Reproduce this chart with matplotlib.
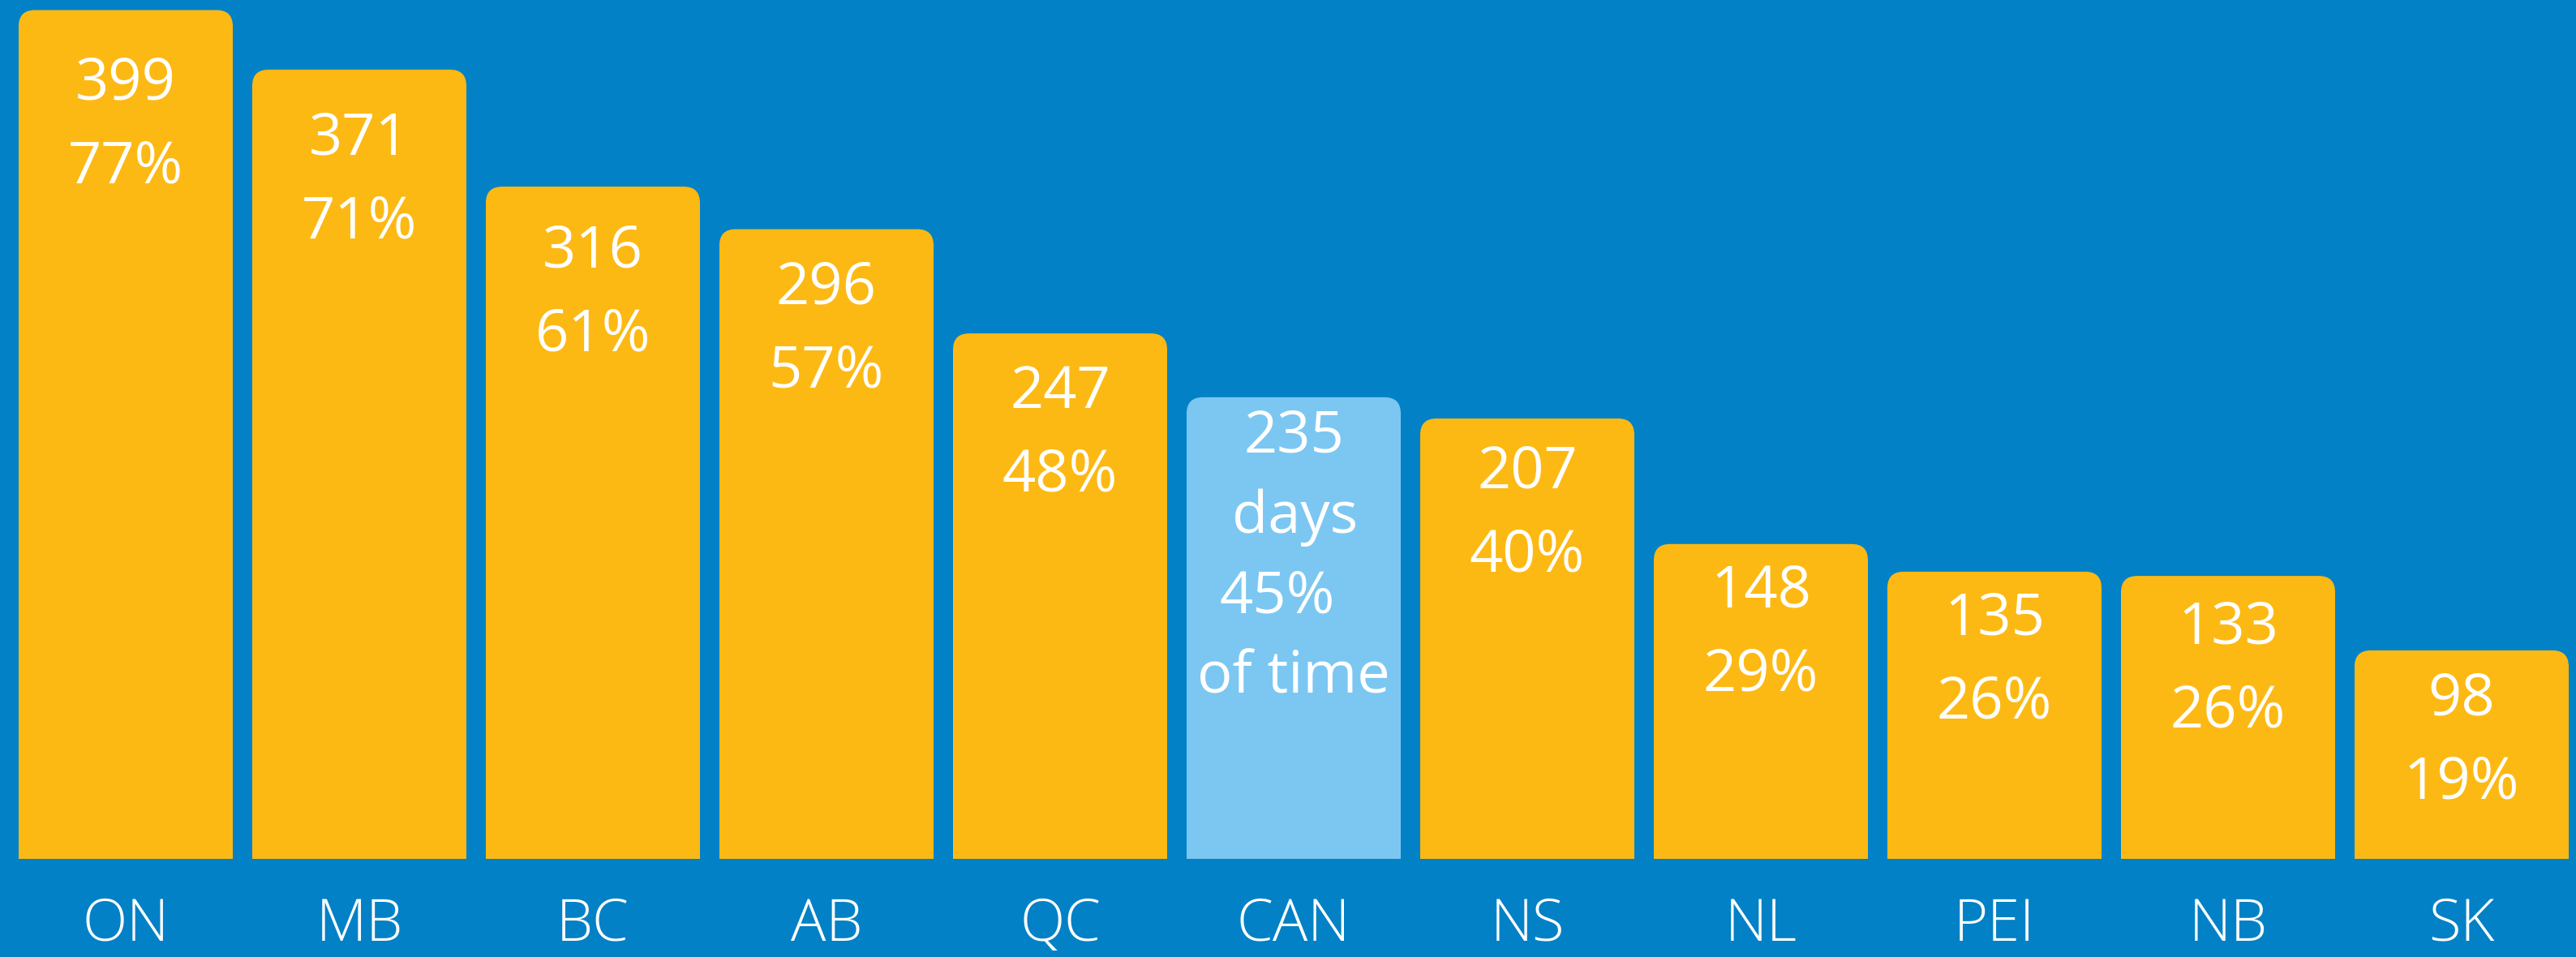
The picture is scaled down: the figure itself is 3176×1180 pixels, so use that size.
import matplotlib.pyplot as plt
from matplotlib.patches import FancyBboxPatch, Rectangle

# Data
provinces = ['ON', 'MB', 'BC', 'AB', 'QC', 'CAN', 'NS', 'NL', 'PEI', 'NB', 'SK']
days = [399, 371, 316, 296, 247, 235, 207, 148, 135, 133, 98]
pct = [77, 71, 61, 57, 48, 45, 40, 29, 26, 26, 19]
# the CAN bar is drawn shorter than its label in the original
bar_heights = [399, 371, 316, 296, 247, 217, 207, 148, 135, 133, 98]

# how far (px) the first label line sits below each bar top
label_drop = [91, 86, 81, 73, 73, 49, 67, 59, 59, 65, 61]

BG = '#0281C6'
YELLOW = '#FDB913'
LIGHT = '#7BC7F2'
colors = [LIGHT if p == 'CAN' else YELLOW for p in provinces]

fig = plt.figure(figsize=(31.76, 11.8), dpi=100)
fig.patch.set_facecolor(BG)
ax = fig.add_axes([0, 0, 1, 1])
ax.set_facecolor(BG)
ax.axis('off')

# pixel geometry: bar pitch 288 px, baseline 121 px above bottom, 2.623 px per day
ax.set_xlim(-155 / 288, (3176 - 155) / 288)
ax.set_ylim(-121 / 2.623, (1180 - 121) / 2.623)

x = list(range(len(provinces)))
bars = ax.bar(x, bar_heights, width=264 / 288, color=colors)

# swap plain bars for ones with rounded top corners
r = 20 / 288
asp = (20 / 2.623) / r
for b in bars:
    x0, w, h = b.get_x(), b.get_width(), b.get_height()
    fc = b.get_facecolor()
    b.remove()
    ax.add_patch(FancyBboxPatch((x0, 0), w, h, boxstyle=f"round,pad=0,rounding_size={r}",
                                mutation_aspect=asp, fc=fc, ec='none'))
    ax.add_patch(Rectangle((x0, 0), w, h / 2, fc=fc, ec='none'))

font = dict(family=['Open Sans', 'DejaVu Sans'], color='white', ha='center')

for i, p in enumerate(provinces):
    h = bar_heights[i]
    if p == 'CAN':
        lines = [str(days[i]), 'days', f'{pct[i]}%', 'of time']
        shifts = [0, 2, -20, 0]
        step = 99
    else:
        lines = [str(days[i]), f'{pct[i]}%']
        shifts = [0, 0]
        step = 103
    for k, s in enumerate(lines):
        ax.annotate(s, (i, h), xytext=(shifts[k], -(label_drop[i] + k * step)),
                    textcoords='offset pixels', fontsize=52, va='center', **font)
    ax.annotate(p, (i, 0), xytext=(0, -101), textcoords='offset pixels',
                fontsize=52, fontweight='light', va='baseline', **font)

plt.savefig('out.png', dpi=100, facecolor=BG)
